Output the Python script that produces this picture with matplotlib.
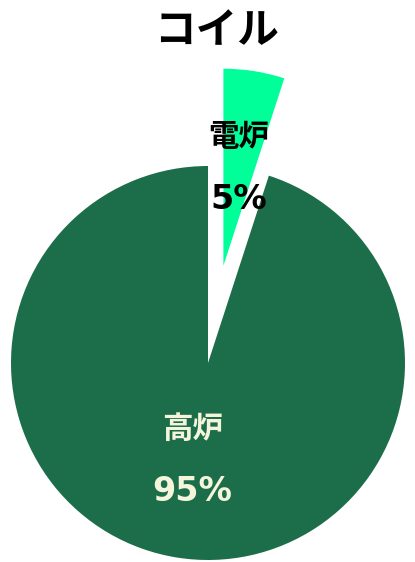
import numpy as np
import matplotlib
matplotlib.use('Agg')
import matplotlib.pyplot as plt

# DATA
labels = ['電炉', '高炉']
values = [5, 95]
colors = ['#00ff99', '#1c6e4a']
text_colors = ['black', '#f5f5dc']
explode = [0.5, 0]
title = 'コイル'

plt.rcParams['font.family'] = ['Noto Sans CJK JP', 'DejaVu Sans']

W, H = 415, 562
fig = plt.figure(figsize=(W / 100, H / 100), dpi=100)
ax = fig.add_axes([0, 0, 1, 1])

wedges, _ = ax.pie(values, colors=colors, explode=explode, startangle=90,
                   counterclock=False, radius=1)

# pie centre and radius in pixels -> axis limits (set after pie, it resets them)
cx, cy, r = 208, 363, 197
ax.set_xlim(-cx / r, (W - cx) / r)
ax.set_ylim(-(H - cy) / r, cy / r)
ax.set_aspect('auto')
ax.axis('off')

# label block: name above, percent below, centred at half radius of each wedge
total = sum(values)
for w, name, v, tc in zip(wedges, labels, values, text_colors):
    ang = np.deg2rad((w.theta1 + w.theta2) / 2)
    x0, y0 = w.center
    x = x0 + 0.5 * np.cos(ang)
    y = y0 + 0.5 * np.sin(ang)
    ax.text(x, y + 0.16, name, ha='center', va='center', fontsize=22,
            fontweight='bold', color=tc)
    ax.text(x, y - 0.16, '%d%%' % round(100 * v / total), ha='center',
            va='center', fontsize=24, fontweight='bold', color=tc,
            family='DejaVu Sans')

fig.text(216 / W, 1 - 31 / H, title, ha='center', va='center', fontsize=30,
         fontweight='bold')

fig.savefig('out.png', dpi=100)
